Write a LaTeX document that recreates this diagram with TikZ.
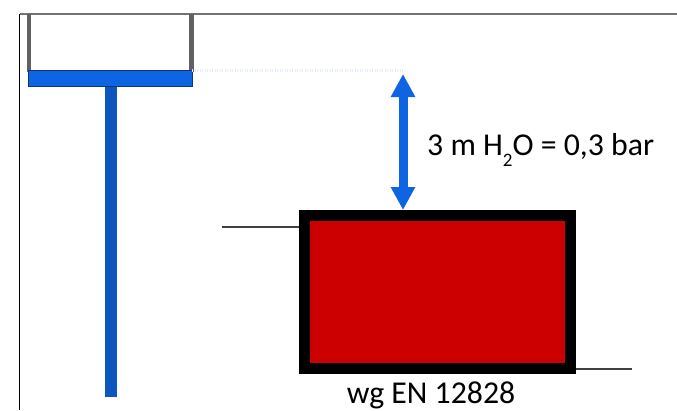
\documentclass[tikz,border=0pt]{standalone}
\usepackage{fontspec}
\setmainfont{Carlito}
\usepackage{xcolor}
\usetikzlibrary{arrows.meta}
\definecolor{waterblue}{RGB}{15,100,225}
\definecolor{boxred}{RGB}{204,0,0}
\tikzset{
  wall/.style={line width=4.6pt, draw=black!62},
  water/.style={fill=waterblue, draw=black!45!waterblue, line width=0.6pt, inner sep=0pt, minimum width=164pt, minimum height=16pt},
  boiler/.style={draw=black, fill=boxred, line width=11pt, inner sep=0pt, minimum width=266.5pt, minimum height=153pt},
  stub/.style={line width=2pt, draw=black!75},
  lbl/.style={font=\fontsize{31.8}{34}\selectfont, inner sep=0pt}
}
\newcommand{\lowtwo}{\raisebox{-11pt}{\fontsize{19}{19}\selectfont 2}}
\begin{document}
\begin{tikzpicture}[x=1pt, y=-1pt]
\useasboundingbox (0,0) rectangle (677,410);
\draw[line width=1.3pt, draw=black!55] (19.5,14) -- (677,14);
\draw[line width=0.9pt] (19.5,14) -- (19.5,410);
% tank and pipe
\draw[wall] (29,14) -- (29,72);
\draw[wall] (191.5,14) -- (191.5,72);
\node[water] (band) at (110,78.5) {};
\coordinate (pipeend) at (111,397);
\draw[line width=11.5pt, draw=waterblue!85!black] (band.south -| pipeend) -- (pipeend);
% level
\coordinate (level) at (403,74);
\draw[line width=3pt, dash pattern=on 1pt off 1.5pt, draw=waterblue!12] (band.north east) -- (level |- band.north);
\node[boiler] (boiler) at (437.25,292) {};
\draw[line width=9pt, draw=waterblue, {Triangle[width=23pt,length=23pt]}-{Triangle[width=23pt,length=23pt]}] (level) -- (level |- boiler.north);
% connections
\coordinate (inlet) at (222,226.5);
\coordinate (outlet) at (632,369);
\draw[stub] (inlet) -- (inlet -| boiler.west);
\draw[stub] (outlet) -- (outlet -| boiler.east);
\node[lbl, anchor=base west] (head) at (427,155) {3 m H\lowtwo O = 0,3 bar};
\node[lbl, anchor=base] (norm) at (431,403) {wg EN 12828};
\end{tikzpicture}
\end{document}
